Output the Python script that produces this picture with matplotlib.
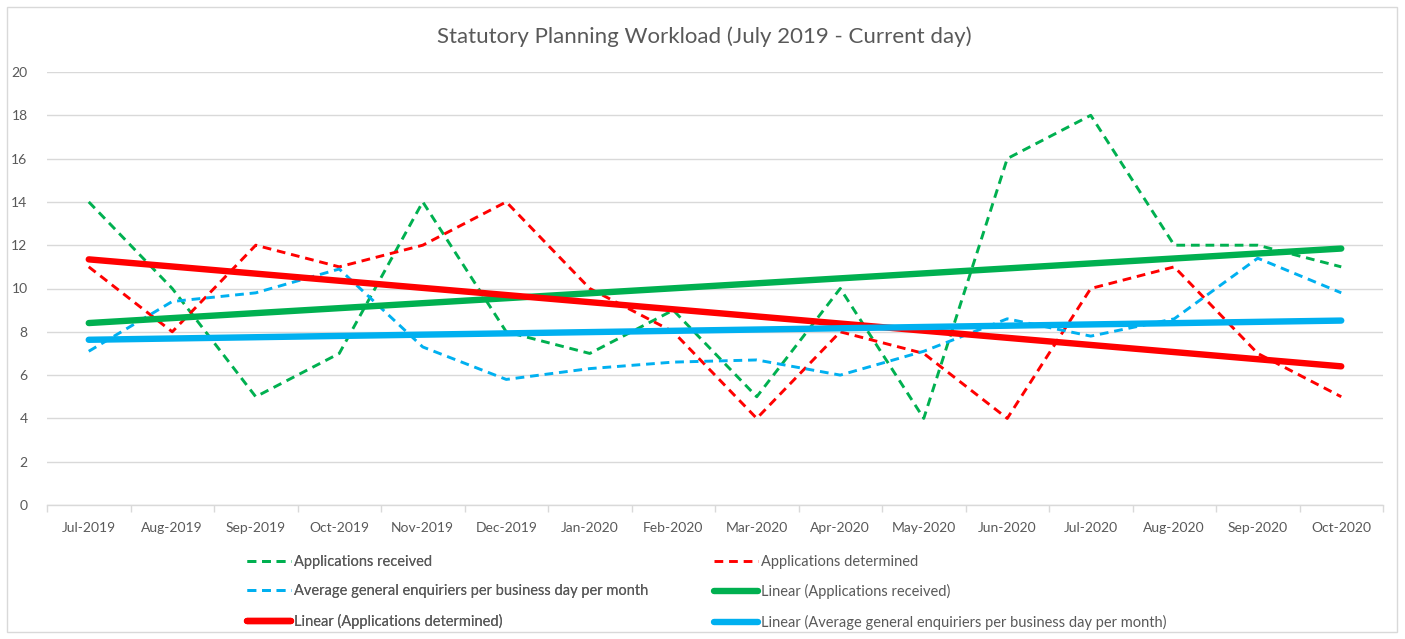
import numpy as np
import matplotlib
matplotlib.use("Agg")
import matplotlib.pyplot as plt
from matplotlib.lines import Line2D
from matplotlib.patches import Rectangle

months = ["Jul-2019", "Aug-2019", "Sep-2019", "Oct-2019", "Nov-2019", "Dec-2019",
          "Jan-2020", "Feb-2020", "Mar-2020", "Apr-2020", "May-2020", "Jun-2020",
          "Jul-2020", "Aug-2020", "Sep-2020", "Oct-2020"]
received = [14, 10, 5, 7, 14, 8, 7, 9, 5, 10, 4, 16, 18, 12, 12, 11]
determined = [11, 8, 12, 11, 12, 14, 10, 8, 4, 8, 7, 4, 10, 11, 7, 5]
enquiries = [7.1, 9.4, 9.8, 10.9, 7.3, 5.8, 6.3, 6.6, 6.7, 6.0, 7.1, 8.6, 7.8, 8.6, 11.4, 9.8]
yticks = [0, 2, 4, 6, 8, 10, 12, 14, 16, 18, 20]

title = "Statutory Planning Workload (July 2019 - Current day)"
lab_rec = "Applications received"
lab_det = "Applications determined"
lab_enq = "Average general enquiriers per business day per month"

GREEN = "#00B050"
RED = "#FF0000"
BLUE = "#00B0F0"
TXT = "#595959"
GRID = "#D9D9D9"

plt.rcParams['font.family'] = ['Lato', 'DejaVu Sans']

W, H = 1405, 639
fig = plt.figure(figsize=(W / 100, H / 100), dpi=100)
ax = fig.add_axes([47 / W, 1 - 505 / H, (1383 - 47) / W, (505 - 72) / H])

x = np.arange(len(months))
dash = (3.0, 2.0)
lw_d = 2.1
lw_t = 4.6

ax.plot(x, received, color=GREEN, lw=lw_d, dashes=dash, zorder=3)
ax.plot(x, determined, color=RED, lw=lw_d, dashes=dash, zorder=3)
ax.plot(x, enquiries, color=BLUE, lw=lw_d, dashes=dash, zorder=3)

for ser, col in [(received, GREEN), (determined, RED), (enquiries, BLUE)]:
    k, b = np.polyfit(x, ser, 1)
    ax.plot(x, k * x + b, color=col, lw=lw_t, solid_capstyle='round', zorder=4)

ax.set_xlim(-0.5, len(months) - 0.5)
ax.set_ylim(0, 20)
ax.set_yticks(yticks)
ax.set_yticklabels([str(v) for v in yticks])
ax.set_xticks(x)
ax.set_xticklabels(months)
ax.set_xticks(np.arange(-0.5, len(months)), minor=True)
ax.tick_params(axis='x', which='major', length=0, pad=12, labelsize=10, labelcolor=TXT)
ax.tick_params(axis='x', which='minor', length=5, color=GRID, width=1)
ax.tick_params(axis='y', length=0, pad=14, labelsize=10, labelcolor=TXT)
ax.grid(axis='y', color=GRID, lw=1)
ax.set_axisbelow(True)
for s in ['left', 'right', 'top']:
    ax.spines[s].set_visible(False)
ax.spines['bottom'].set_color(GRID)
ax.spines['bottom'].set_linewidth(1)

fig.text(704 / W, 1 - 37 / H, title, ha='center', va='center', fontsize=16, color=TXT)

def h_d(c):
    return Line2D([], [], color=c, lw=lw_d, dashes=dash)

def h_t(c):
    return Line2D([], [], color=c, lw=lw_t, solid_capstyle='round')

common = dict(loc='upper left', frameon=False, fontsize=10.5, handlelength=3.0,
              handletextpad=0.25, labelspacing=1.05, labelcolor=TXT,
              borderpad=0, borderaxespad=0)
leg1 = fig.legend([h_d(GREEN), h_d(BLUE), h_t(RED)],
                  [lab_rec, lab_enq, "Linear (" + lab_det + ")"],
                  bbox_to_anchor=(247 / W, 1 - 555 / H), **common)
leg2 = fig.legend([h_d(RED), h_t(GREEN), h_t(BLUE)],
                  [lab_det, "Linear (" + lab_rec + ")", "Linear (" + lab_enq + ")"],
                  bbox_to_anchor=(714 / W, 1 - 555 / H), **common)
fig.add_artist(leg1)

fig.patches.append(Rectangle((7 / W, 1 - 632 / H), (1397 - 7) / W, (632 - 7) / H,
                             transform=fig.transFigure, fill=False, ec=GRID, lw=1))

fig.savefig("out.png", dpi=100)
